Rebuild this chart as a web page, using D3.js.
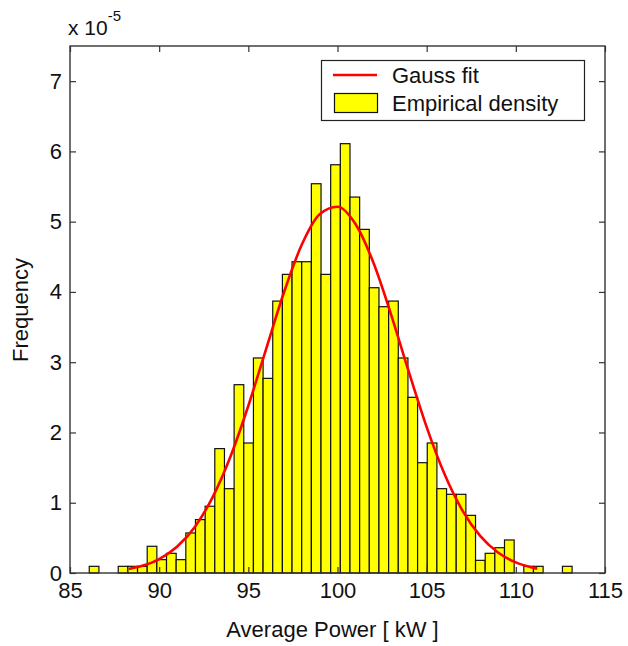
<!DOCTYPE html>
<html>
<head>
<meta charset="utf-8">
<script src="https://cdn.jsdelivr.net/npm/d3@7/dist/d3.min.js"></script>
<style>
  html, body { margin: 0; padding: 0; background: #fff; }
  text { font-family: "Liberation Sans", Arial, sans-serif; fill: #111; }
</style>
</head>
<body>
<svg id="chart" width="628" height="646"></svg>
<script>
// ---- data (density values in units of 1e-5) ----
const binMin = 86.08;
const binMax = 113.155;
const densityValues = [
  0.095, 0, 0, 0.095, 0.095, 0.095, 0.38, 0.19, 0.28, 0.19,
  0.57, 0.76, 0.95, 1.77, 1.20, 2.68, 1.85, 3.06, 2.77, 3.87,
  4.25, 4.43, 4.43, 5.54, 4.25, 5.81, 6.11, 5.35, 4.89, 4.06,
  3.79, 3.87, 3.06, 2.50, 1.57, 1.85, 1.20, 1.12, 1.12, 0.82,
  0.18, 0.28, 0.36, 0.47, 0, 0.095, 0.095, 0, 0, 0.095
];
const gaussX = [88.3, 89, 90, 91, 92, 93, 94, 95, 96, 97, 98, 99, 100, 101, 102, 103, 104, 105, 106, 107, 108, 109, 110, 111, 111.2];
const gaussY = [0.058, 0.098, 0.198, 0.373, 0.656, 1.08, 1.658, 2.38, 3.191, 3.996, 4.675, 5.107, 5.213, 4.97, 4.426, 3.682, 2.862, 2.077, 1.408, 0.892, 0.528, 0.292, 0.151, 0.073, 0.062];
const xTicks = [85, 90, 95, 100, 105, 110, 115];
const yTicks = [0, 1, 2, 3, 4, 5, 6, 7];
const xDomain = [85, 115];
const yDomain = [0, 7.5];
const legendLabels = ["Gauss fit", "Empirical density"];
const xLabel = "Average Power [ kW ]";
const yLabel = "Frequency";

// ---- layout ----
const svg = d3.select("#chart");
const L = 70, R = 605, T = 46, B = 573;
const x = d3.scaleLinear().domain(xDomain).range([L, R]);
const y = d3.scaleLinear().domain(yDomain).range([B, T]);
const nBins = densityValues.length;
const bw = (binMax - binMin) / nBins;
const bins = densityValues.map((v, i) => ({x0: binMin + i * bw, x1: binMin + (i + 1) * bw, v}));

// bars
svg.append("g").selectAll("rect").data(bins.filter(d => d.v > 0)).join("rect")
  .attr("x", d => x(d.x0))
  .attr("width", d => x(d.x1) - x(d.x0))
  .attr("y", d => y(d.v))
  .attr("height", d => y(0) - y(d.v))
  .attr("fill", "#ffff00")
  .attr("stroke", "#111")
  .attr("stroke-width", 1.2);

// gauss curve
const pts = gaussX.map((gx, i) => [gx, gaussY[i]]);
svg.append("path")
  .datum(pts)
  .attr("fill", "none")
  .attr("stroke", "#ff0000")
  .attr("stroke-width", 2.6)
  .attr("d", d3.line().x(d => x(d[0])).y(d => y(d[1])).curve(d3.curveMonotoneX));

// axes
const fs = 22;
const axColor = "#333";
const xAxis = svg.append("g").attr("transform", `translate(0,${B})`)
  .call(d3.axisBottom(x).tickValues(xTicks).tickSize(-6).tickPadding(10));
xAxis.select(".domain").remove();
xAxis.selectAll("line").attr("stroke", axColor).attr("stroke-width", 1.2);
xAxis.selectAll("text").attr("font-size", fs).attr("font-family", "Liberation Sans, Arial, sans-serif").attr("fill", "#111").attr("dy", "0.7em");

const xAxisTop = svg.append("g").attr("transform", `translate(0,${T})`)
  .call(d3.axisTop(x).tickValues(xTicks).tickSize(-6).tickFormat(""));
xAxisTop.select(".domain").remove();
xAxisTop.selectAll("line").attr("stroke", axColor).attr("stroke-width", 1.2);

const yAxis = svg.append("g").attr("transform", `translate(${L},0)`)
  .call(d3.axisLeft(y).tickValues(yTicks).tickSize(-6).tickPadding(8));
yAxis.select(".domain").remove();
yAxis.selectAll("line").attr("stroke", axColor).attr("stroke-width", 1.2);
yAxis.selectAll("text").attr("font-size", fs).attr("font-family", "Liberation Sans, Arial, sans-serif").attr("fill", "#111");

const yAxisR = svg.append("g").attr("transform", `translate(${R},0)`)
  .call(d3.axisRight(y).tickValues(yTicks).tickSize(-6).tickFormat(""));
yAxisR.select(".domain").remove();
yAxisR.selectAll("line").attr("stroke", axColor).attr("stroke-width", 1.2);

// box
svg.append("rect").attr("x", L).attr("y", T).attr("width", R - L).attr("height", B - T)
  .attr("fill", "none").attr("stroke", axColor).attr("stroke-width", 1.4);

// exponent label
const ex = svg.append("text").attr("x", 68).attr("y", 35).attr("font-size", 21);
ex.append("tspan").text("x 10");
ex.append("tspan").attr("dy", -14).attr("font-size", 15).text("-5");

// axis labels
svg.append("text").attr("x", (L + R) / 2 - 5).attr("y", 637)
  .attr("text-anchor", "middle").attr("font-size", fs).text(xLabel);
svg.append("text").attr("transform", "translate(28,310) rotate(-90)")
  .attr("text-anchor", "middle").attr("font-size", fs).text(yLabel);

// legend
const lg = svg.append("g");
lg.append("rect").attr("x", 321.5).attr("y", 60.5).attr("width", 263).attr("height", 60)
  .attr("fill", "#fff").attr("stroke", "#222").attr("stroke-width", 1.2);
lg.append("line").attr("x1", 333).attr("x2", 377).attr("y1", 75).attr("y2", 75)
  .attr("stroke", "#ff0000").attr("stroke-width", 2.6);
lg.append("rect").attr("x", 334.5).attr("y", 93.5).attr("width", 43).attr("height", 19)
  .attr("fill", "#ffff00").attr("stroke", "#111").attr("stroke-width", 1.2);
lg.append("text").attr("x", 392).attr("y", 83).attr("font-size", fs).text(legendLabels[0]);
lg.append("text").attr("x", 392).attr("y", 111).attr("font-size", fs).text(legendLabels[1]);
</script>
</body>
</html>
